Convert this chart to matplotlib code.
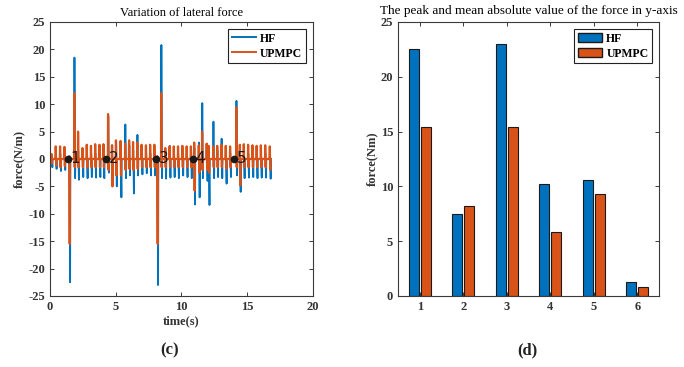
import matplotlib
matplotlib.use("Agg")
import matplotlib.pyplot as plt
from matplotlib.lines import Line2D
from matplotlib.patches import Patch

plt.rcParams["axes.unicode_minus"] = False

# ---------------- data: lateral force pulses ----------------
step_times = [0.10, 0.42, 0.75, 1.08, 1.45, 1.83, 2.12, 2.45, 2.78, 3.10,
              3.42, 3.75, 4.05, 4.40, 4.70, 5.00, 5.35, 5.70, 6.00, 6.30,
              6.62, 6.95, 7.28, 7.60, 7.92, 8.14, 8.44, 8.75, 9.08, 9.40,
              9.72, 10.05, 10.38, 10.70, 10.95, 11.30, 11.55, 11.90, 12.05, 12.40,
              12.70, 13.02, 13.35, 13.68, 14.15, 14.42, 14.72, 15.05, 15.38, 15.70,
              16.02, 16.35, 16.70]

hf_high = [0.8, 0.9, 1.0, 1.0, 0.5, 18.5, 1.5, 1.0, 1.0, 1.0,
           1.0, 1.0, 1.2, 7.8, 2.5, 3.2, 2.0, 6.3, 2.5, 1.5,
           4.4, 1.5, 1.2, 1.0, 1.0, 0.5, 20.8, 1.5, 2.4, 1.0,
           1.0, 1.0, 1.0, 1.5, 2.0, 3.0, 10.2, 2.5, 1.5, 6.8,
           1.5, 3.7, 1.5, 1.0, 10.6, 1.5, 1.0, 1.0, 1.0, 1.0,
           1.0, 1.0, 1.2]
hf_low = [-1.5, -1.8, -2.2, -2.0, -22.5, -3.5, -3.8, -3.3, -3.5, -3.3,
          -3.4, -3.3, -3.5, -2.5, -4.5, -5.0, -7.0, -3.5, -3.0, -6.3,
          -3.0, -2.8, -2.6, -3.0, -3.0, -23.0, -3.5, -3.6, -3.4, -3.3,
          -3.5, -3.0, -3.3, -3.5, -8.3, -7.0, -3.5, -4.0, -8.4, -3.5,
          -3.3, -3.5, -4.5, -3.3, -3.0, -6.0, -3.5, -3.4, -3.3, -3.5,
          -3.4, -3.4, -3.6]
up_high = [0.9, 2.3, 2.3, 2.2, 0.5, 12.0, 5.0, 2.0, 2.6, 2.4,
           2.7, 2.6, 2.7, 8.2, 2.5, 3.4, 3.3, 2.8, 3.4, 3.1,
           3.0, 2.6, 2.5, 2.6, 2.6, 0.5, 12.0, 2.0, 2.3, 2.3,
           2.3, 2.4, 2.3, 2.3, 3.0, 2.5, 5.0, 2.8, 2.4, 2.3,
           2.4, 2.6, 2.4, 2.3, 9.4, 2.6, 2.7, 2.6, 2.5, 2.4,
           2.5, 2.5, 2.3]
up_low = [-0.8, -1.2, -1.5, -1.3, -15.5, -1.5, -1.5, -1.5, -1.6, -1.5,
          -1.5, -1.5, -1.5, -2.0, -5.0, -3.0, -3.0, -2.0, -1.8, -2.0,
          -1.8, -1.5, -1.5, -1.5, -1.5, -15.5, -1.5, -1.5, -1.5, -1.5,
          -1.5, -1.5, -1.5, -1.5, -5.8, -2.5, -2.0, -2.0, -2.5, -1.5,
          -1.5, -1.5, -1.8, -1.5, -1.5, -4.8, -1.5, -1.5, -1.5, -1.5,
          -1.5, -1.5, -2.0]

marker_times = [1.37, 4.26, 8.06, 10.87, 14.03]
marker_labels = ["1", "2", "3", "4", "5"]

# ---------------- data: peak / mean absolute force ----------------
categories = [1, 2, 3, 4, 5, 6]
hf_bars = [22.5, 7.5, 23.0, 10.2, 10.6, 1.3]
up_bars = [15.4, 8.25, 15.4, 5.8, 9.35, 0.85]

C_HF = "#0072BD"
C_UP = "#D95319"
AX_COL = "#3a3a3a"
SERIF = ["Liberation Serif", "DejaVu Serif"]


def pulse_trace(times, highs, lows, rise, fall):
    xs, ys = [0.0], [0.0]
    for t, hi, lo in zip(times, highs, lows):
        xs += [t, t + rise, t + fall, t + fall + 0.02]
        ys += [0.0, hi, lo, 0.0]
    return xs, ys


fig = plt.figure(figsize=(6.84, 3.67), dpi=100)
ax1 = fig.add_axes([0.0731, 0.1935, 0.3845, 0.7466])
ax2 = fig.add_axes([0.5819, 0.1935, 0.3816, 0.7466])


def style_axes(ax):
    for s in ax.spines.values():
        s.set_color(AX_COL)
        s.set_linewidth(0.8)
    ax.tick_params(direction="in", top=True, right=True, length=3,
                   width=0.7, color=AX_COL, labelcolor="#333333", labelsize=9)
    for lab in ax.get_xticklabels() + ax.get_yticklabels():
        lab.set_family(SERIF)
        lab.set_fontweight("bold")


legend_kw = dict(loc="upper right", fancybox=False, framealpha=1, edgecolor="#222222",
                 prop={"family": SERIF, "weight": "bold", "size": 8.5},
                 handlelength=2.0, handletextpad=0.4, borderaxespad=0.6,
                 labelspacing=0.25, borderpad=0.3)

# ---- left: time series ----
hx, hy = pulse_trace(step_times, hf_high, hf_low, 0.03, 0.08)
ux, uy = pulse_trace(step_times, up_high, up_low, 0.015, 0.05)
ax1.plot(hx, hy, color=C_HF, lw=1.3)
ax1.plot(ux, uy, color=C_UP, lw=1.6)
ax1.plot(marker_times, [0] * len(marker_times), "o", color="#1a1a1a", ms=4.5, zorder=5)
for t, lab in zip(marker_times, marker_labels):
    ax1.text(t + 0.2, 0, lab, fontsize=11, va="center", ha="left",
             family="DejaVu Sans", color="#1a1a1a", zorder=6)
ax1.set_xlim(0, 20)
ax1.set_ylim(-25, 25)
ax1.set_xticks([0, 5, 10, 15, 20])
ax1.set_yticks(range(-25, 26, 5))
style_axes(ax1)
ax1.set_title("Variation of lateral force", family=SERIF, fontsize=9, pad=4)
ax1.set_xlabel("time(s)", family=SERIF, fontweight="bold", fontsize=9, color="#333333", labelpad=2)
ax1.set_ylabel("force(N/m)", family=SERIF, fontweight="bold", fontsize=9, color="#333333", labelpad=2)
leg1 = ax1.legend([Line2D([], [], color=C_HF, lw=1.4), Line2D([], [], color=C_UP, lw=1.4)],
                  ["HF", "UPMPC"], **legend_kw)
leg1.get_frame().set_linewidth(0.8)

# ---- right: grouped bars ----
bw = 0.23
off = 0.14
ax2.bar([c - off for c in categories], hf_bars, width=bw, color=C_HF,
        edgecolor="#1a1a1a", linewidth=0.8)
ax2.bar([c + off for c in categories], up_bars, width=bw, color=C_UP,
        edgecolor="#1a1a1a", linewidth=0.8)
ax2.set_xlim(0.5, 6.5)
ax2.set_ylim(0, 25)
ax2.set_xticks(categories)
ax2.set_yticks(range(0, 26, 5))
style_axes(ax2)
ax2.set_title("The peak and mean absolute value of the force in y-axis",
              family=SERIF, fontsize=9.5, pad=6)
ax2.set_ylabel("force(Nm)", family=SERIF, fontweight="bold", fontsize=9, color="#333333", labelpad=2)
leg2 = ax2.legend([Patch(facecolor=C_HF, edgecolor="#1a1a1a"),
                   Patch(facecolor=C_UP, edgecolor="#1a1a1a")],
                  ["HF", "UPMPC"], **legend_kw)
leg2.get_frame().set_linewidth(0.8)

fig.text(170 / 684, 1 - 350 / 367, "(c)", family=SERIF, fontweight="bold",
         fontsize=12, ha="center", va="center", color="#222222")
fig.text(527 / 684, 1 - 350 / 367, "(d)", family=SERIF, fontweight="bold",
         fontsize=12, ha="center", va="center", color="#222222")

fig.savefig("out.png", dpi=100)
